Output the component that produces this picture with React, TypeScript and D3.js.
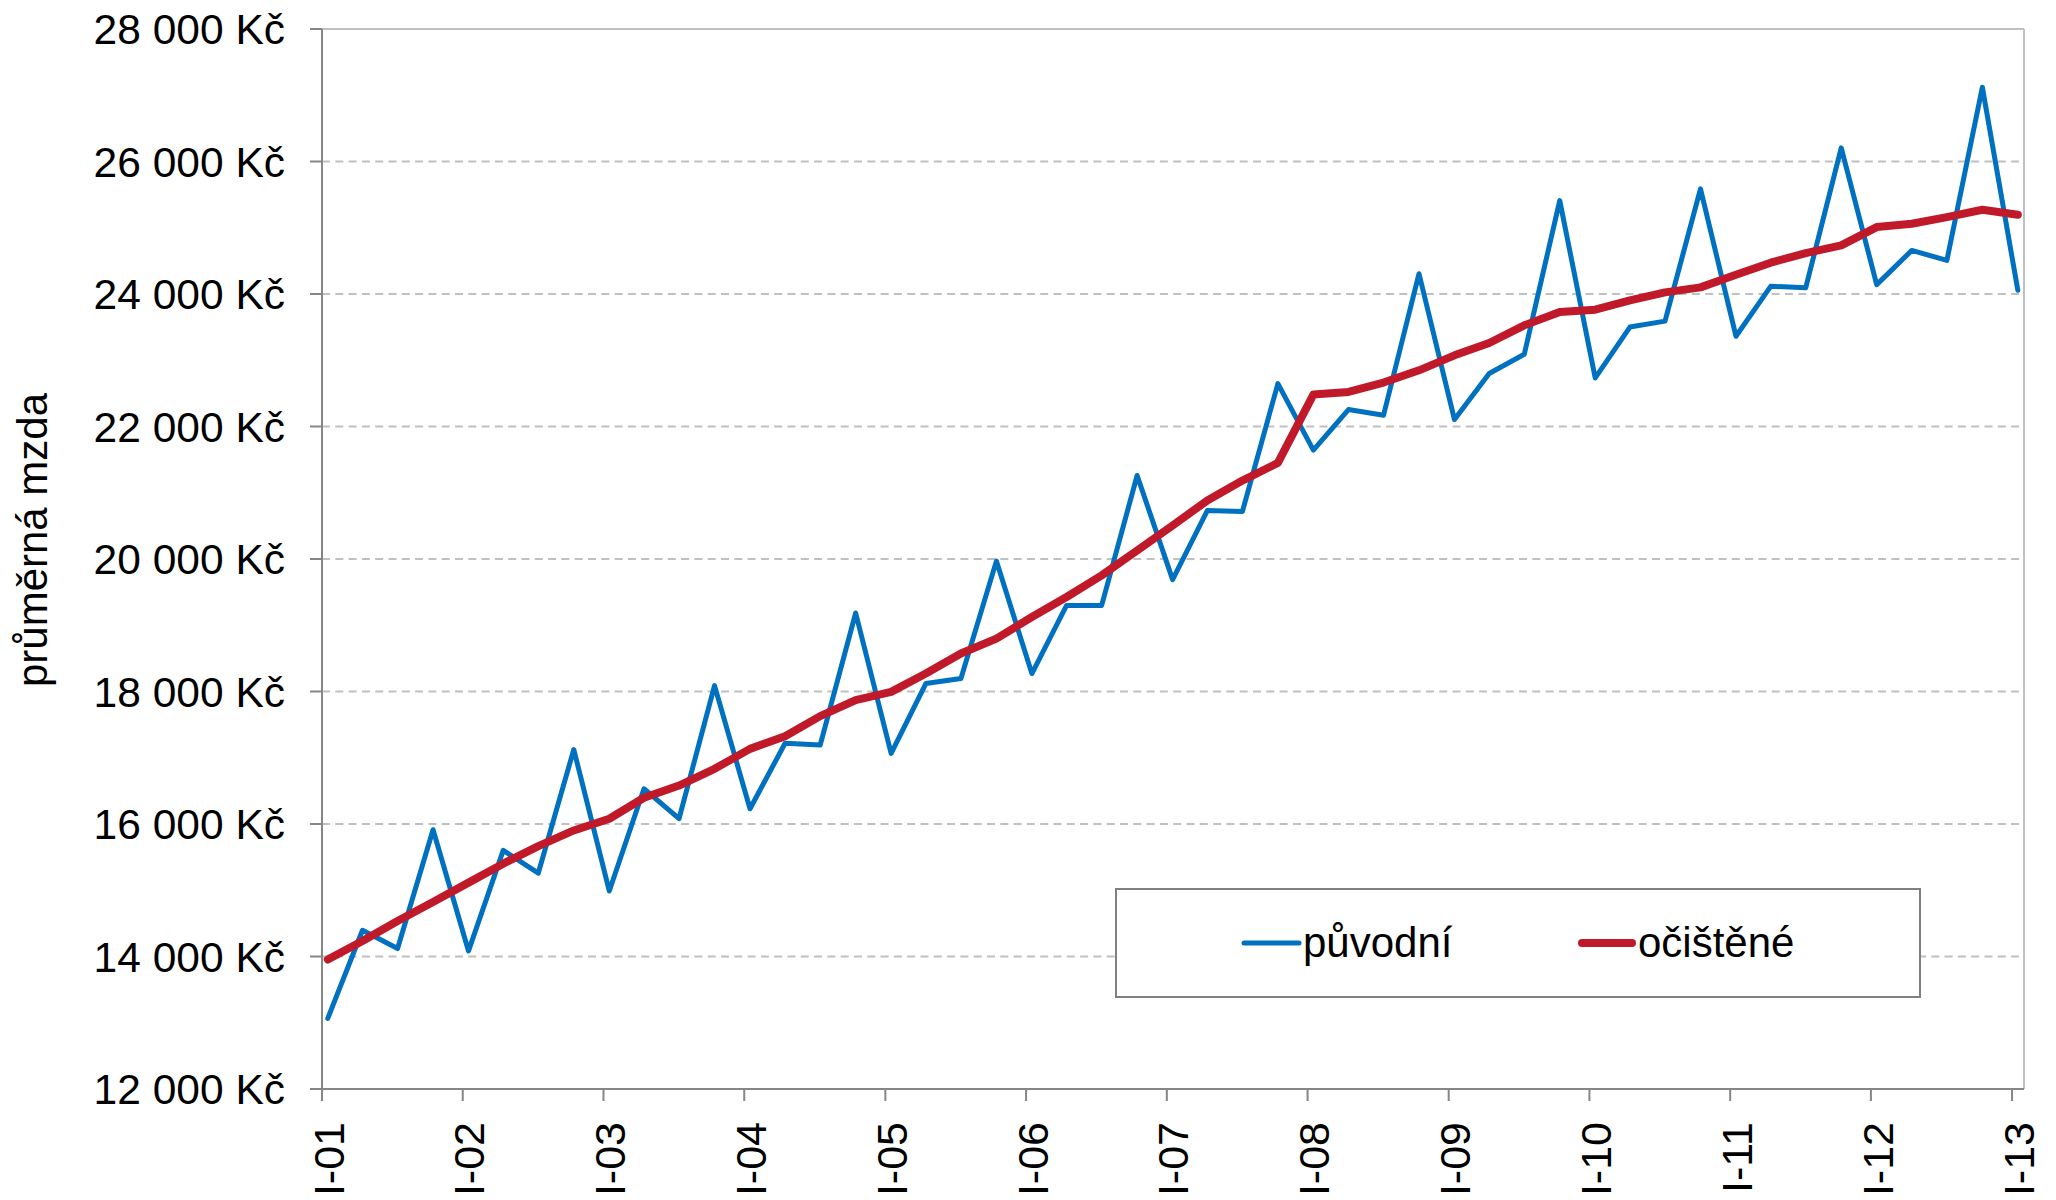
import React from "react";
import * as d3 from "d3";

const START_YEAR = 2001;
const yearLabels = ["I-01","I-02","I-03","I-04","I-05","I-06","I-07","I-08","I-09","I-10","I-11","I-12","I-13"];
const yTicks = [12000,14000,16000,18000,20000,22000,24000,26000,28000];

const puvodni = [
  13066, 14396, 14120, 15914, 14084, 15602, 15260, 17124, 14989, 16532, 16080, 18088,
  16230, 17219, 17191, 19185, 17066, 18120, 18196, 19968, 18271, 19300, 19300, 21260,
  19688, 20732, 20717, 22648, 21643, 22256, 22170, 24306, 22105, 22799, 23090, 25410,
  22733, 23501, 23591, 25587, 23363, 24116, 24096, 26206, 24142, 24658, 24508, 27120,
  24056,
];
const ocistene = [
  13955, 14235, 14537, 14823, 15115, 15401, 15667, 15903, 16080, 16396, 16581, 16833,
  17134, 17325, 17628, 17869, 17994, 18271, 18573, 18799, 19124, 19426, 19753, 20129,
  20506, 20883, 21184, 21450, 22482, 22522, 22663, 22848, 23074, 23260, 23527, 23727,
  23764, 23904, 24025, 24100, 24290, 24473, 24618, 24734, 25010, 25061, 25160, 25272,
  25197,
];
const seriesNames = ["původní", "očištěné"];
const seriesColors = ["#0070c0", "#c0192a"];

const FONT = "'Liberation Sans', Arial, sans-serif";

// quarterly observation dates (first month of each quarter, mid-month)
const dates = puvodni.map((_, i) => new Date(START_YEAR + Math.floor(i / 4), (i % 4) * 3, 16));
const tickDates = yearLabels.map((_, i) => new Date(START_YEAR + i, 0, 1));

export default function App() {
  const left = 322, right = 2024, top = 29, bottom = 1089;
  const x = d3.scaleTime()
    .domain([new Date(START_YEAR, 0, 1), new Date(START_YEAR + 12, 1, 1)])
    .range([left, right]);
  const y = d3.scaleLinear().domain([12000, 28000]).range([bottom, top]);

  const line = d3.line<number>()
    .x((_, i) => x(dates[i]))
    .y((d) => y(d));

  const fmt = (v: number) => d3.format(",")(v).replace(/,/g, " ") + " Kč";

  return (
    <svg width={2056} height={1200} style={{ position: "absolute", left: 0, top: 0, background: "#fff" }}
      fontFamily={FONT}>
      {/* gridlines */}
      {yTicks.filter((t) => t > 12000 && t < 28000).map((t) => (
        <line key={t} x1={left} x2={right} y1={y(t)} y2={y(t)} stroke="#c0c0c0" strokeWidth={2} strokeDasharray="8 5.3" />
      ))}
      {/* top and right border */}
      <line x1={left} x2={right} y1={y(28000)} y2={y(28000)} stroke="#c0c0c0" strokeWidth={2} />
      <line x1={right} x2={right} y1={top} y2={bottom} stroke="#c0c0c0" strokeWidth={2} />

      {/* axes */}
      <line x1={left} x2={left} y1={top} y2={bottom} stroke="#868686" strokeWidth={2} />
      <line x1={left} x2={right} y1={bottom} y2={bottom} stroke="#868686" strokeWidth={2} />
      {yTicks.map((t) => (
        <g key={t}>
          <line x1={left - 12} x2={left} y1={y(t)} y2={y(t)} stroke="#868686" strokeWidth={2} />
          <text x={285} y={y(t) + 15.3} textAnchor="end" fontSize={42.5} fill="#000">{fmt(t)}</text>
        </g>
      ))}
      {tickDates.map((d, i) => (
        <g key={i}>
          <line x1={x(d)} x2={x(d)} y1={bottom} y2={bottom + 12} stroke="#868686" strokeWidth={2} />
          <text transform={`translate(${x(d) + 21.6},1122) rotate(-90)`} textAnchor="end" fontSize={43} fill="#000">
            {yearLabels[i]}
          </text>
        </g>
      ))}

      {/* y title */}
      <text transform="translate(47,540) rotate(-90)" textAnchor="middle" fontSize={42} fill="#000">průměrná mzda</text>

      {/* series */}
      <path d={line(puvodni) || ""} fill="none" stroke={seriesColors[0]} strokeWidth={5}
        strokeLinejoin="round" strokeLinecap="round" />
      <path d={line(ocistene) || ""} fill="none" stroke={seriesColors[1]} strokeWidth={8}
        strokeLinejoin="round" strokeLinecap="round" />

      {/* legend */}
      <rect x={1116} y={889} width={804} height={108} fill="#fff" stroke="#808080" strokeWidth={2} />
      <line x1={1244} x2={1299} y1={943} y2={943} stroke={seriesColors[0]} strokeWidth={5} strokeLinecap="round" />
      <text x={1303} y={957} fontSize={42} fill="#000">{seriesNames[0]}</text>
      <line x1={1582} x2={1632} y1={943} y2={943} stroke={seriesColors[1]} strokeWidth={8} strokeLinecap="round" />
      <text x={1638} y={957} fontSize={42} fill="#000">{seriesNames[1]}</text>
    </svg>
  );
}
